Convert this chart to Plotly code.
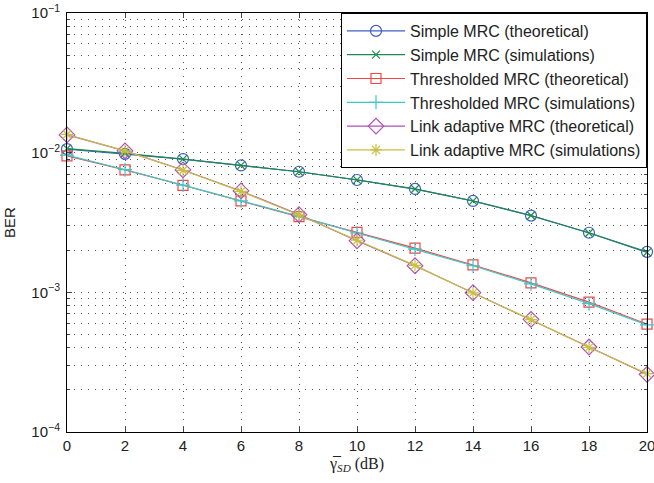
import plotly.graph_objects as go

snr_db = [0, 2, 4, 6, 8, 10, 12, 14, 16, 18, 20]

simple_theo = [0.0106, 0.0098, 0.0090, 0.0081, 0.0073, 0.00637, 0.00550, 0.00451, 0.00354, 0.00267, 0.00195]
simple_sim = [0.0107, 0.0099, 0.0090, 0.0081, 0.0073, 0.00638, 0.00549, 0.00452, 0.00355, 0.00266, 0.00193]
thresh_theo = [0.0095, 0.00752, 0.00584, 0.00451, 0.00348, 0.00269, 0.00207, 0.00157, 0.00117, 0.00085, 0.000593]
thresh_sim = [0.0096, 0.00755, 0.00586, 0.00452, 0.00350, 0.00266, 0.00204, 0.00155, 0.00115, 0.00083, 0.000585]
link_theo = [0.0134, 0.0103, 0.00752, 0.00532, 0.00360, 0.00234, 0.00155, 0.000994, 0.000641, 0.000406, 0.000259]
link_sim = [0.0135, 0.0103, 0.00748, 0.00528, 0.00358, 0.00236, 0.00156, 0.000990, 0.000638, 0.000404, 0.000262]

series = [
    ("Simple MRC (theoretical)", simple_theo, "#3f5fc0", "circle-open", 11),
    ("Simple MRC (simulations)", simple_sim, "#1e8a50", "x-thin-open", 8),
    ("Thresholded MRC (theoretical)", thresh_theo, "#f04848", "square-open", 10),
    ("Thresholded MRC (simulations)", thresh_sim, "#3cc8c8", "cross-thin-open", 10),
    ("Link adaptive MRC (theoretical)", link_theo, "#b050b8", "diamond-open", 12),
    ("Link adaptive MRC (simulations)", link_sim, "#c8c040", "asterisk-open", 10),
]

y_tickvals = [1e-4, 1e-3, 1e-2, 1e-1]
y_ticktext = ["10<sup>−4</sup>", "10<sup>−3</sup>", "10<sup>−2</sup>", "10<sup>−1</sup>"]
x_tickvals = [0, 2, 4, 6, 8, 10, 12, 14, 16, 18, 20]

fig = go.Figure()
for name, vals, color, sym, size in series:
    fig.add_trace(go.Scatter(
        x=snr_db, y=vals, name=name, mode="lines+markers",
        line=dict(color=color, width=1.2),
        marker=dict(symbol=sym, size=size, color=color, line=dict(color=color, width=1.2)),
        cliponaxis=False,
    ))

grid_dash = "1px,6px"
fig.update_layout(
    width=654, height=483,
    margin=dict(l=67, r=7, t=13, b=51),
    paper_bgcolor="white", plot_bgcolor="white",
    font=dict(family="Liberation Sans, Arial, sans-serif", size=14, color="#222"),
    legend=dict(
        x=1, y=1, xanchor="right", yanchor="top",
        bgcolor="white", bordercolor="black", borderwidth=1,
        font=dict(size=16, color="#222"),
        itemwidth=58, tracegroupgap=0,
    ),
    showlegend=True,
)
fig.update_xaxes(
    range=[0, 20], tickvals=x_tickvals, ticks="inside", ticklen=5,
    showline=True, linecolor="black", linewidth=1, mirror="allticks",
    showgrid=True, gridcolor="#555", griddash=grid_dash, gridwidth=1,
    zeroline=False, tickfont=dict(size=15), automargin=False,
    ticklabeloverflow="allow",
    title=dict(text="γ̅<sub><i>SD</i></sub> (dB)",
               font=dict(family="Liberation Serif, Times New Roman, serif", size=16), standoff=4),
)
fig.update_yaxes(
    type="log", range=[-4, -1], tickvals=y_tickvals, ticktext=y_ticktext,
    ticks="inside", ticklen=5, ticklabelstandoff=3,
    showline=True, linecolor="black", linewidth=1, mirror="allticks",
    showgrid=True, gridcolor="#555", griddash=grid_dash, gridwidth=1,
    minor=dict(ticks="inside", ticklen=3, showgrid=True, gridcolor="#555", griddash=grid_dash,
               tickvals=[k * 10 ** e for e in (-4, -3, -2) for k in range(2, 10)]),
    zeroline=False, tickfont=dict(size=15), automargin=False,
    title=dict(text="BER", font=dict(size=15), standoff=12),
)

fig.write_html(
    "out.html",
    config={"displayModeBar": False},
    post_script="document.body.style.margin='0';document.body.style.overflow='hidden';",
)
